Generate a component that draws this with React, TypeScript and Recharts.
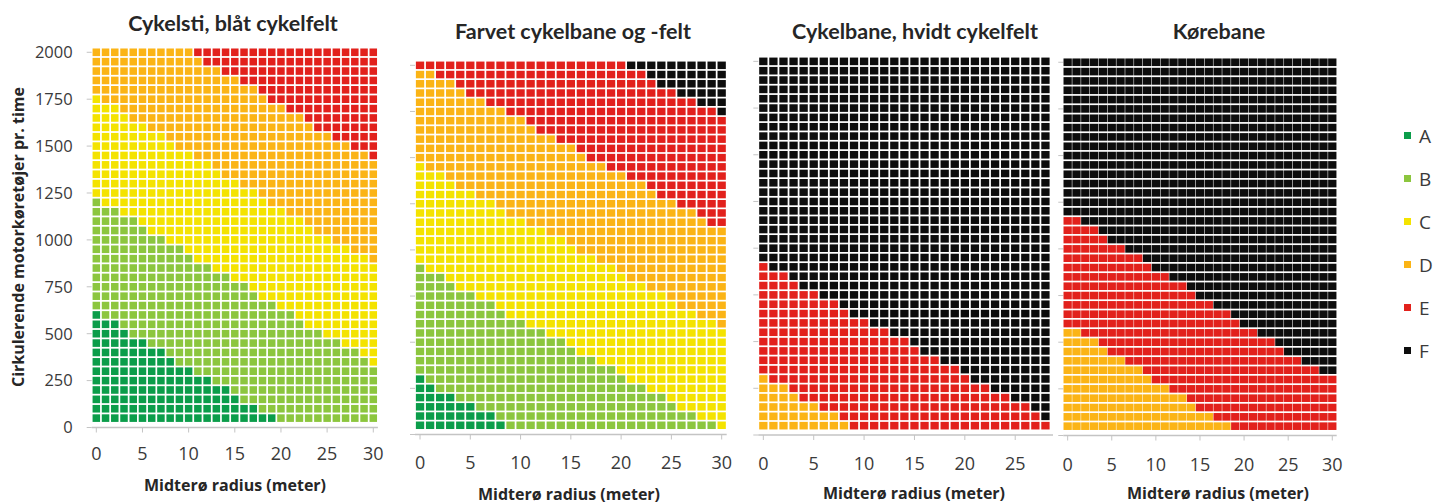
import React from 'react';
import { ScatterChart, Scatter, XAxis, YAxis, Legend } from 'recharts';

// Level of service classes and colours (Excel-like palette)
const levels = ['A', 'B', 'C', 'D', 'E', 'F'];
const levelColors = ['#0b9d4a', '#8cc63e', '#f4e300', '#fbb416', '#e2211c', '#0d0d0d'];

// categories
const radii30 = [0, 1, 2, 3, 4, 5, 6, 7, 8, 9, 10, 11, 12, 13, 14, 15, 16, 17, 18, 19, 20, 21, 22, 23, 24, 25, 26, 27, 28, 29, 30];
const radii28 = [0, 1, 2, 3, 4, 5, 6, 7, 8, 9, 10, 11, 12, 13, 14, 15, 16, 17, 18, 19, 20, 21, 22, 23, 24, 25, 26, 27, 28];
const volumes = [50, 100, 150, 200, 250, 300, 350, 400, 450, 500, 550, 600, 650, 700, 750, 800, 850, 900, 950, 1000,
  1050, 1100, 1150, 1200, 1250, 1300, 1350, 1400, 1450, 1500, 1550, 1600, 1650, 1700, 1750, 1800, 1850, 1900, 1950, 2000];

const yTicks = [0, 250, 500, 750, 1000, 1250, 1500, 1750, 2000];
const xTicks30 = [0, 5, 10, 15, 20, 25, 30];
const xTicks28 = [0, 5, 10, 15, 20, 25];

// highest circulating volume (veh/h) that still gets the level, per radius
const cykelstiA = [600, 550, 550, 500, 450, 450, 400, 400, 350, 300, 300, 250, 250, 200, 200, 150, 100, 100, 50, 50, 0, 0, 0, 0, 0, 0, 0, 0, 0, 0, 0];
const cykelstiB = [1200, 1150, 1150, 1100, 1100, 1050, 1000, 1000, 950, 950, 900, 850, 850, 800, 800, 750, 750, 700, 650, 650, 600, 600, 550, 500, 500, 450, 450, 400, 400, 350, 300];
const cykelstiC = [1750, 1700, 1700, 1650, 1600, 1600, 1550, 1550, 1500, 1450, 1450, 1400, 1400, 1350, 1300, 1300, 1250, 1250, 1200, 1150, 1150, 1100, 1100, 1050, 1000, 1000, 950, 950, 900, 900, 850];
const cykelstiD = [2000, 2000, 2000, 2000, 2000, 2000, 2000, 2000, 2000, 2000, 2000, 1950, 1900, 1900, 1850, 1850, 1800, 1800, 1750, 1700, 1700, 1650, 1650, 1600, 1550, 1550, 1500, 1500, 1450, 1450, 1400];

const farvetA = [300, 250, 200, 200, 150, 150, 100, 100, 50, 0, 0, 0, 0, 0, 0, 0, 0, 0, 0, 0, 0, 0, 0, 0, 0, 0, 0, 0, 0, 0, 0];
const farvetB = [900, 850, 850, 800, 750, 750, 700, 700, 650, 600, 600, 550, 550, 500, 500, 450, 400, 400, 350, 350, 300, 250, 250, 200, 200, 150, 100, 100, 50, 50, 0];
const farvetC = [1450, 1400, 1400, 1350, 1300, 1300, 1250, 1250, 1200, 1150, 1150, 1100, 1100, 1050, 1050, 1000, 950, 950, 900, 900, 850, 800, 800, 750, 750, 700, 650, 650, 600, 600, 550];
const farvetD = [1950, 1950, 1900, 1900, 1850, 1800, 1800, 1750, 1750, 1700, 1700, 1650, 1600, 1600, 1550, 1550, 1500, 1450, 1450, 1400, 1400, 1350, 1350, 1300, 1250, 1250, 1200, 1200, 1150, 1100, 1100];
const farvetE = [2000, 2000, 2000, 2000, 2000, 2000, 2000, 2000, 2000, 2000, 2000, 2000, 2000, 2000, 2000, 2000, 2000, 2000, 2000, 2000, 2000, 1950, 1950, 1900, 1850, 1850, 1800, 1800, 1750, 1750, 1700];

const hvidtD = [300, 250, 250, 200, 150, 150, 100, 100, 50, 0, 0, 0, 0, 0, 0, 0, 0, 0, 0, 0, 0, 0, 0, 0, 0, 0, 0, 0, 0];
const hvidtE = [900, 850, 850, 800, 750, 750, 700, 700, 650, 600, 600, 550, 550, 500, 500, 450, 400, 400, 350, 350, 300, 250, 250, 200, 200, 150, 150, 100, 50];

const korebaneD = [550, 550, 500, 500, 450, 400, 400, 350, 350, 300, 250, 250, 200, 200, 150, 100, 100, 50, 50, 0, 0, 0, 0, 0, 0, 0, 0, 0, 0, 0, 0];
const korebaneE = [1150, 1150, 1100, 1100, 1050, 1000, 1000, 950, 950, 900, 850, 850, 800, 800, 750, 700, 700, 650, 650, 600, 550, 550, 500, 500, 450, 400, 400, 350, 350, 300, 300];

type Cell = { radius: number; volume: number };

const buildCells = (radii: number[], limits: Record<string, number[]>, rest: string) => {
  const groups: Cell[][] = levels.map(() => []);
  radii.forEach((r, i) => {
    volumes.forEach((v) => {
      let lv = rest;
      for (const key of levels) {
        if (limits[key] && v <= limits[key][i]) { lv = key; break; }
      }
      groups[levels.indexOf(lv)].push({ radius: r, volume: v });
    });
  });
  return groups;
};

const TITLE_FONT = 'Lato, "Open Sans", sans-serif';
const FONT = '"Open Sans", Lato, sans-serif';
const TEXT = '#3a3a3a';

const panels = [
  {
    title: 'Cykelsti, blåt cykelfelt', titleX: 233, titleY: 24, axisTitleX: 235, axisTitleY: 485,
    radii: radii30, xTicks: xTicks30, xMax: 30.5,
    limits: { A: cykelstiA, B: cykelstiB, C: cykelstiC, D: cykelstiD }, rest: 'E',
    left: 0, width: 390, yAxisWidth: 60, margin: { top: 47.6, right: 12.1, left: 31.7, bottom: 31.5 },
    cellW: 7.5, cellH: 7.6, tickMargin: 15, showY: true,
  },
  {
    title: 'Farvet cykelbane og -felt', titleX: 573, titleY: 32, axisTitleX: 569, axisTitleY: 494,
    radii: radii30, xTicks: xTicks30, xMax: 30.5,
    limits: { A: farvetA, B: farvetB, C: farvetC, D: farvetD, E: farvetE }, rest: 'F',
    left: 380, width: 360, yAxisWidth: 20, margin: { top: 60.7, right: 13.3, left: 15, bottom: 24.5 },
    cellW: 8.3, cellH: 7.5, tickMargin: 17, showY: false,
  },
  {
    title: 'Cykelbane, hvidt cykelfelt', titleX: 915, titleY: 32, axisTitleX: 914, axisTitleY: 493,
    radii: radii28, xTicks: xTicks28, xMax: 28.75,
    limits: { D: hvidtD, E: hvidtE }, rest: 'F',
    left: 740, width: 330, yAxisWidth: 10, margin: { top: 56.7, right: 17, left: 8.3, bottom: 24 },
    cellW: 8.3, cellH: 7.6, tickMargin: 17.5, showY: false,
  },
  {
    title: 'Kørebane', titleX: 1219, titleY: 32, axisTitleX: 1218, axisTitleY: 493,
    radii: radii30, xTicks: xTicks30, xMax: 30.5,
    limits: { D: korebaneD, E: korebaneE }, rest: 'F',
    left: 1050, width: 391, yAxisWidth: 10, margin: { top: 57.6, right: 64.3, left: 3.25, bottom: 23.5 },
    cellW: 8.3, cellH: 7.6, tickMargin: 18, showY: false, legend: true,
  },
];

const cellShape = (w: number, h: number) => (props: any) => {
  const { cx, cy, fill } = props;
  if (cx == null || cy == null) return <g />;
  return <rect x={cx - w / 2} y={cy - h / 2} width={w} height={h} fill={fill} />;
};

const LegendList = ({ payload }: any) => (
  <div style={{ fontFamily: FONT }}>
    {(payload || []).map((item: any) => (
      <div key={item.value} style={{ height: 43, display: 'flex', alignItems: 'center' }}>
        <span style={{ width: 7, height: 7, background: item.color, display: 'inline-block', marginRight: 8 }} />
        <span style={{ fontSize: 19, color: TEXT }}>{item.value}</span>
      </div>
    ))}
  </div>
);

const Panel = ({ p }: { p: (typeof panels)[number] }) => {
  const groups = buildCells(p.radii, p.limits as Record<string, number[]>, p.rest);
  const shape = cellShape(p.cellW, p.cellH);
  return (
    <div style={{ position: 'absolute', left: p.left, top: 0 }}>
      <ScatterChart width={p.width} height={504} margin={p.margin}>
        <XAxis
          type="number"
          dataKey="radius"
          domain={[-0.5, p.xMax]}
          ticks={p.xTicks}
          interval={0}
          height={45}
          tickSize={5}
          tickMargin={p.tickMargin}
          axisLine={{ stroke: '#c4c4c4', strokeWidth: 1.5 }}
          tickLine={{ stroke: '#c4c4c4' }}
          tick={{ fontSize: 18, fill: TEXT, fontFamily: FONT }}
        />
        <YAxis
          type="number"
          dataKey="volume"
          domain={[0, 2025]}
          ticks={yTicks}
          interval={0}
          width={p.yAxisWidth}
          tickSize={5}
          tickMargin={14}
          axisLine={false}
          tickLine={{ stroke: '#c4c4c4' }}
          tickFormatter={p.showY ? undefined : () => ''}
          tick={{ fontSize: 16.5, fill: TEXT, fontFamily: FONT }}
        />
        {levels.map((lv, i) => (
          <Scatter
            key={lv}
            name={lv}
            data={groups[i]}
            fill={levelColors[i]}
            shape={shape}
            legendType="square"
            isAnimationActive={false}
          />
        ))}
        {p.legend && (
          <Legend
            layout="horizontal"
            verticalAlign="middle"
            align="right"
            content={<LegendList />}
            wrapperStyle={{ left: 354, top: 114, width: 40 }}
          />
        )}
      </ScatterChart>
    </div>
  );
};

const centered = (x: number, y: number, size: number, family: string): React.CSSProperties => ({
  position: 'absolute',
  left: x,
  top: y,
  transform: 'translate(-50%, -50%)',
  whiteSpace: 'nowrap',
  lineHeight: 1,
  fontFamily: family,
  fontWeight: 700,
  fontSize: size,
  color: '#262626',
});

export default function App() {
  return (
    <div style={{ position: 'absolute', left: 0, top: 0, width: 1441, height: 504, background: '#fff', overflow: 'hidden' }}>
      {panels.map((p) => (
        <Panel key={p.title} p={p} />
      ))}
      {panels.map((p) => (
        <div key={p.title + '-t'} style={centered(p.titleX, p.titleY, 21.5, TITLE_FONT)}>{p.title}</div>
      ))}
      {panels.map((p) => (
        <div key={p.title + '-x'} style={centered(p.axisTitleX, p.axisTitleY, 16, FONT)}>Midterø radius (meter)</div>
      ))}
      <div style={{ ...centered(17.5, 237, 16, FONT), transform: 'translate(-50%, -50%) rotate(-90deg)' }}>
        Cirkulerende motorkøretøjer pr. time
      </div>
    </div>
  );
}
